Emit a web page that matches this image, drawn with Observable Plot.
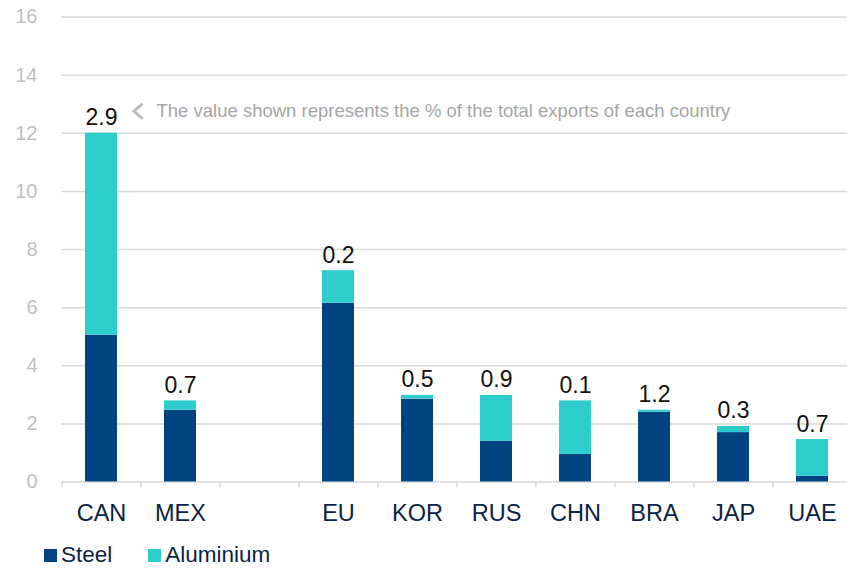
<!DOCTYPE html>
<html>
<head>
<meta charset="utf-8">
<script src="https://cdn.jsdelivr.net/npm/d3@7"></script>
<script src="https://cdn.jsdelivr.net/npm/@observablehq/plot@0.6"></script>
<style>
  body { margin: 0; background: #fff; font-family: "Liberation Sans", Arial, sans-serif; }
  #wrap { position: relative; width: 847px; height: 568px; overflow: hidden; }
  #legend { position: absolute; left: 44px; top: 542px; font-size: 22.5px; line-height: normal; color: #0b2345; white-space: nowrap; }
  .sw { width: 13px; height: 13px; display: inline-block; margin-right: 4px; vertical-align: baseline; }
  .item { display: inline-block; margin-right: 36px; }
</style>
</head>
<body>
<div id="wrap">
  <div id="chart"></div>
  <div id="legend"></div>
</div>
<script>
const countries = ["CAN", "MEX", "", "EU", "KOR", "RUS", "CHN", "BRA", "JAP", "UAE"];
const steel     = [5.05, 2.47, null, 6.15, 2.85, 1.40, 0.95, 2.40, 1.70, 0.20];
const aluminium = [6.95, 0.32, null, 1.12, 0.13, 1.58, 1.84, 0.07, 0.21, 1.26];
const shareLabels = ["2.9", "0.7", null, "0.2", "0.5", "0.9", "0.1", "1.2", "0.3", "0.7"];
const seriesNames = ["Steel", "Aluminium"];
const seriesColors = ["#004481", "#2dcccd"];
const yTicks = [0, 2, 4, 6, 8, 10, 12, 14, 16];
const note = "The value shown represents the % of the total exports of each country";

const long = [];
countries.forEach((c, i) => {
  if (steel[i] == null) return;
  long.push({country: c, series: "Steel", value: steel[i]});
  long.push({country: c, series: "Aluminium", value: aluminium[i]});
});
const totals = countries.map((c, i) => ({country: c, total: (steel[i] ?? 0) + (aluminium[i] ?? 0), label: shareLabels[i]}))
  .filter(d => d.label != null);

const W = 847, H = 540, ML = 61;
const step = (852 - ML) / countries.length;

// chevron "<" symbol
const chevron = {
  draw(ctx) {
    ctx.moveTo(5, -7.5);
    ctx.lineTo(-3.5, 0);
    ctx.lineTo(5, 7.5);
  }
};

const chart = Plot.plot({
  width: W,
  height: H,
  marginTop: 16.5,
  marginBottom: H - 481.5,
  marginLeft: ML,
  marginRight: 0,
  style: {fontFamily: "'Liberation Sans', Arial, sans-serif", background: "#fff"},
  x: {domain: countries, range: [ML, 852], paddingInner: 0.6, paddingOuter: 0.3, label: null},
  y: {domain: [0, 16], label: null},
  color: {domain: seriesNames, range: seriesColors},
  marks: [
    Plot.ruleY(yTicks.filter(d => d > 0), {stroke: "#d9d9d9", strokeWidth: 1.5}),
    Plot.ruleY([0], {stroke: "#d9d9d9", strokeWidth: 1.5}),
    Plot.ruleX(countries, {x: d => d, y1: 0, y2: -0.2, dx: -step / 2, stroke: "#d9d9d9", strokeWidth: 1.5}),
    Plot.barY(long, Plot.stackY({x: "country", y: "value", fill: "series", order: seriesNames})),
    Plot.axisY({ticks: yTicks, tickSize: 0, tickPadding: 24, fontSize: 20, color: "#bfbfbf", tickFormat: d => d, label: null}),
    Plot.axisX({tickSize: 0, tickPadding: 22, fontSize: 23.5, color: "#0b2345", label: null}),
    Plot.text(totals, {x: "country", y: "total", text: "label", lineAnchor: "bottom", dy: -8, fontSize: 23, fill: "#111"}),
    Plot.dot(totals.slice(0, 1), {x: "country", y: "total", symbol: chevron, dx: 36, dy: -22, fill: "none", stroke: "#b8b8b8", strokeWidth: 3, strokeLinejoin: "miter"}),
    Plot.text(totals.slice(0, 1), {x: "country", y: "total", text: () => note, dx: 55, dy: -22, textAnchor: "start", fontSize: 18.5, fill: "#a6a6a6"})
  ]
});
document.getElementById("chart").appendChild(chart);

const legend = document.getElementById("legend");
seriesNames.forEach((n, i) => {
  const it = document.createElement("span");
  it.className = "item";
  it.innerHTML = `<span class="sw" style="background:${seriesColors[i]}"></span>${n}`;
  legend.appendChild(it);
});
</script>
</body>
</html>
